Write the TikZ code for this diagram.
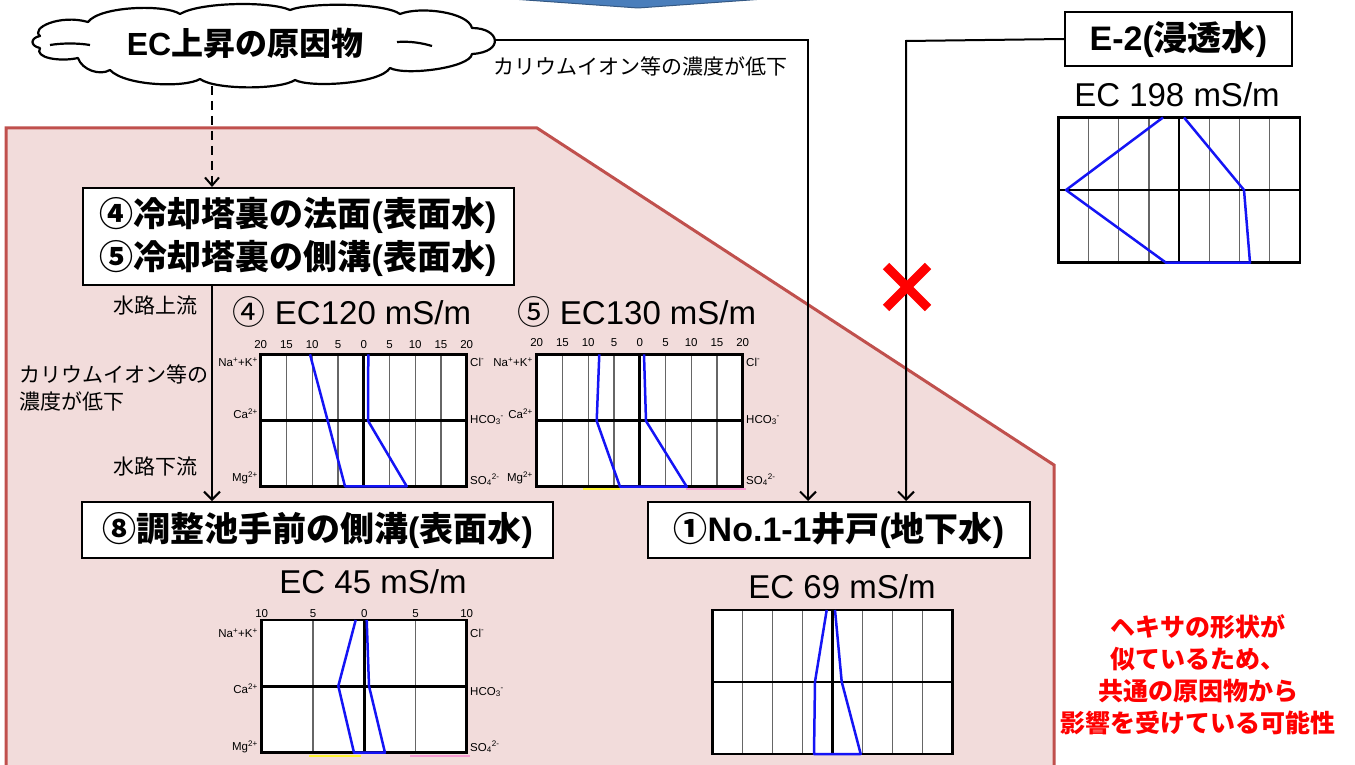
\documentclass[tikz,border=0pt]{standalone}
\usepackage{fontspec}
\setmainfont{Liberation Sans}
\newfontfamily\jp{Noto Sans CJK JP}
\usetikzlibrary{arrows.meta}
\definecolor{regionfill}{HTML}{F2DCDB}
\definecolor{regionline}{HTML}{C0504D}
\definecolor{topblue}{HTML}{4A7EBB}
\definecolor{chartblue}{RGB}{20,20,245}
\newcommand{\mychart}[5]{%
  \fill[white] (#1,#2) rectangle (#3,#4);
  \pgfmathtruncatemacro\nm{#5-1}
  \foreach \i in {1,...,\nm}{\draw[gridl] ({#1+(#3-#1)*\i/#5},#2) -- ({#1+(#3-#1)*\i/#5},#4);}
  \draw[axisl] ({(#1+#3)/2},#2) -- ({(#1+#3)/2},#4);
  \draw[axisl] (#1,{(#2+#4)/2}) -- (#3,{(#2+#4)/2});
  \draw[framel] (#1,#2) rectangle (#3,#4);
}
\begin{document}
\begin{tikzpicture}[x=1pt,y=-1pt,
  boxnode/.style={draw, line width=2pt, fill=white, inner sep=0pt, align=center, font=\fontsize{34}{43}\selectfont\bfseries},
  ecl/.style={font=\fontsize{33}{36}\selectfont, inner sep=0pt},
  smalljp/.style={font=\jp\fontsize{21}{27}\selectfont, inner sep=0pt},
  numl/.style={font=\fontsize{11.5}{12}\selectfont, inner sep=0pt},
  ionl/.style={font=\fontsize{11.5}{12}\selectfont, inner sep=0pt},
  gridl/.style={line width=1.3pt, draw=black!60},
  axisl/.style={line width=2.6pt, draw=black},
  framel/.style={line width=2.6pt, draw=black},
  hexa/.style={line width=2.5pt, draw=chartblue, line join=round},
  arr/.style={line width=2pt, -{Straight Barb[length=8pt,width=16pt,line width=2pt]}},
  cloudline/.style={line width=2.2pt, draw=black, line join=round},
  redtext/.style={font=\jp\bfseries\fontsize{25}{32}\selectfont, text=red, align=center, inner sep=0pt}
]
\useasboundingbox (0,0) rectangle (1355,765);
\fill[white] (0,0) rectangle (1355,765);

% top blue shape
\filldraw[fill=topblue, draw=topblue!70!black, line width=1pt] (498,-2) -- (778,-2) -- (638,8) -- cycle;

% pink region
\filldraw[fill=regionfill, draw=regionline, line width=3pt] (6,128) -- (537,128) -- (1054,465) -- (1054,775) -- (6,775) -- cycle;

% cloud outline
\filldraw[cloudline, fill=white]
  (40,36) .. controls (30,28) and (60,14) .. (88,22)
  .. controls (100,6) and (165,4) .. (180,14)
  .. controls (200,2) and (270,1) .. (290,10)
  .. controls (310,2) and (385,3) .. (400,14)
  .. controls (420,6) and (468,12) .. (472,28)
  .. controls (500,28) and (505,52) .. (472,54)
  .. controls (470,68) and (405,76) .. (390,68)
  .. controls (380,84) and (310,88) .. (295,80)
  .. controls (280,90) and (215,90) .. (200,79)
  .. controls (185,88) and (125,86) .. (110,70)
  .. controls (100,76) and (82,70) .. (78,58)
  .. controls (60,62) and (34,58) .. (40,48)
  .. controls (30,46) and (30,38) .. (40,36) -- cycle;
\draw[cloudline] (50,45) .. controls (62,43) and (78,43) .. (90,45);
\draw[cloudline] (397,42) .. controls (410,41) and (422,43) .. (432,46);
\node[inner sep=0pt, font=\fontsize{32}{36}\selectfont\bfseries] (cloud) at (245,43) {EC{\jp 上昇の原因物}};
\coordinate (cloudR) at (494,40);
\coordinate (k3) at (212,86);

% boxes
\node[boxnode, minimum width=431pt, minimum height=97pt] (box45) at (298,236.5)
  {{\jp ④冷却塔裏の法面}({\jp 表面水})\\{\jp ⑤冷却塔裏の側溝}({\jp 表面水})};
\node[boxnode, minimum width=471pt, minimum height=56pt] (box8) at (317.5,530)
  {{\jp ⑧調整池手前の側溝}({\jp 表面水})};
\node[boxnode, minimum width=382pt, minimum height=56pt] (box1) at (839,530)
  {{\jp ①}No.1-1{\jp 井戸}({\jp 地下水})};
\node[boxnode, minimum width=227pt, minimum height=54pt] (boxE) at (1178.5,39)
  {E-2({\jp 浸透水})};

% connectors
\coordinate (k1) at (808,40);
\draw[arr] (cloudR) -- (k1) -- (box1.north -| k1);
\node[smalljp] (lblA) at (640,66) {カリウムイオン等の濃度が低下};

\coordinate (k2) at (906,41);
\draw[arr] (boxE.west) -- (k2) -- (box1.north -| k2);

\draw[line width=2pt, dash pattern=on 9pt off 6pt, -{Straight Barb[length=8pt,width=14pt,line width=2pt]}] (k3) -- (box45.north -| k3);
\draw[arr] (box45.south -| k3) -- (box8.north -| k3);

\node[smalljp, anchor=east] (up) at (198,306) {水路上流};
\node[smalljp, anchor=west, align=left] (mid) at (19,388) {カリウムイオン等の\\濃度が低下};
\node[smalljp, anchor=east] (down) at (198,467) {水路下流};

% red cross
\draw[red, line width=9pt] (886,266) -- (928,308);
\draw[red, line width=9pt] (928,266) -- (886,308);

% EC labels
\node[ecl] (ec4) at (352,312) {{\jp ④} EC120 mS/m};
\node[ecl] (ec5) at (637,312) {{\jp ⑤} EC130 mS/m};
\node[ecl] (ec8) at (373,582) {EC 45 mS/m};
\node[ecl] (ec1) at (842,587) {EC 69 mS/m};
\node[ecl] (ecE) at (1177,95) {EC 198 mS/m};

% chart 4
\mychart{260.7}{354.3}{466.7}{486.3}{8}
\draw[hexa] (310,354.3) -- (327.7,420.7) -- (345,486.3) -- (406.7,486.3) -- (368,420.7) -- (368.3,354.3);
\foreach \v [count=\k from 0] in {20,15,10,5,0,5,10,15,20}
  \node[numl] (n4-\k) at ({260.7+25.75*\k},345) {\v};
\node[ionl, anchor=east] (a4-1) at (258,362) {Na\textsuperscript{+}+K\textsuperscript{+}};
\node[ionl, anchor=east] (a4-2) at (258,414) {Ca\textsuperscript{2+}};
\node[ionl, anchor=east] (a4-3) at (258,478) {Mg\textsuperscript{2+}};
\node[ionl, anchor=west] (c4-1) at (470,362) {Cl\textsuperscript{-}};
\node[ionl, anchor=west] (c4-2) at (470,420) {HCO\textsubscript{3}\textsuperscript{-}};
\node[ionl, anchor=west] (c4-3) at (470,480) {SO\textsubscript{4}\textsuperscript{2-}};

% chart 5
\mychart{536.7}{354.3}{742.7}{486.7}{8}
\draw[hexa] (599.3,354.3) -- (596.7,421) -- (620,486.7) -- (686.7,486.7) -- (646,421) -- (644,354.3);
\foreach \v [count=\k from 0] in {20,15,10,5,0,5,10,15,20}
  \node[numl] (n5-\k) at ({536.7+25.75*\k},343) {\v};
\node[ionl, anchor=east] (a5-1) at (533,362) {Na\textsuperscript{+}+K\textsuperscript{+}};
\node[ionl, anchor=east] (a5-2) at (533,414) {Ca\textsuperscript{2+}};
\node[ionl, anchor=east] (a5-3) at (533,478) {Mg\textsuperscript{2+}};
\node[ionl, anchor=west] (c5-1) at (746,362) {Cl\textsuperscript{-}};
\node[ionl, anchor=west] (c5-2) at (746,420) {HCO\textsubscript{3}\textsuperscript{-}};
\node[ionl, anchor=west] (c5-3) at (746,480) {SO\textsubscript{4}\textsuperscript{2-}};
\draw[line width=1.5pt, yellow!80!white] (583,489) -- (620,489);
\draw[line width=1.5pt, magenta!40!white] (686,489) -- (746,489);

% chart 8
\mychart{261.7}{620}{466.7}{752.7}{4}
\draw[hexa] (355.7,620) -- (338.3,686) -- (354,752.7) -- (385,752.7) -- (369,686) -- (366.7,620);
\foreach \v [count=\k from 0] in {10,5,0,5,10}
  \node[numl] (n8-\k) at ({261.7+51.25*\k},614) {\v};
\node[ionl, anchor=east] (a8-1) at (258,633) {Na\textsuperscript{+}+K\textsuperscript{+}};
\node[ionl, anchor=east] (a8-2) at (258,689) {Ca\textsuperscript{2+}};
\node[ionl, anchor=east] (a8-3) at (258,747) {Mg\textsuperscript{2+}};
\node[ionl, anchor=west] (c8-1) at (470,633) {Cl\textsuperscript{-}};
\node[ionl, anchor=west] (c8-2) at (470,692) {HCO\textsubscript{3}\textsuperscript{-}};
\node[ionl, anchor=west] (c8-3) at (470,747) {SO\textsubscript{4}\textsuperscript{2-}};
\draw[line width=1.5pt, yellow!80!white] (309,756) -- (361,756);
\draw[line width=1.5pt, magenta!40!white] (410,756) -- (470,756);

% chart 1
\mychart{712.7}{610}{952.3}{754}{8}
\draw[hexa] (826.7,610) -- (815,681.7) -- (814,754) -- (860.7,754) -- (841.7,681.7) -- (835,610);

% chart E-2
\mychart{1058.3}{117.5}{1300}{262.7}{8}
\draw[hexa] (1163,117.5) -- (1066,190) -- (1166,262.7) -- (1250,262.7) -- (1244,190) -- (1184,117.5);

% red text
\node[redtext] (concl) at (1198,675) {ヘキサの形状が\\似ているため、\\共通の原因物から\\影響を受けている可能性};
\end{tikzpicture}
\end{document}
